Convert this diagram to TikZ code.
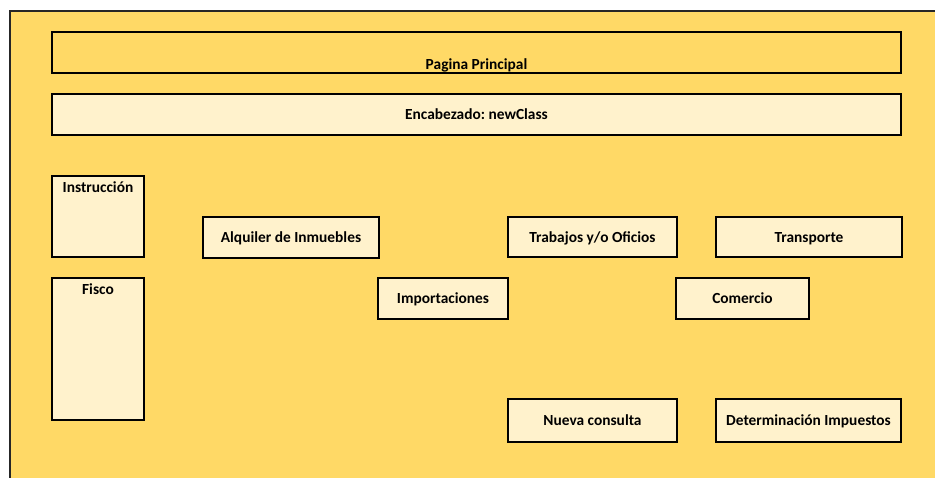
\documentclass[tikz,border=0pt]{standalone}
\usepackage{fontspec}
\setmainfont{Carlito}
\frenchspacing
\definecolor{gold}{HTML}{FFD966}
\definecolor{cream}{HTML}{FFF2CC}
\begin{document}
\begin{tikzpicture}[x=1pt,y=-1pt,
  box/.style={draw=black,line width=1.4pt,fill=cream,inner sep=0pt,
    text height=12pt,text depth=2pt,
    font=\bfseries\fontsize{15.4}{18}\selectfont},
  txt/.style={inner sep=0pt,font=\bfseries\fontsize{15.4}{18}\selectfont}]
\useasboundingbox (0,0) rectangle (935,477);
\fill[gold] (10,11) rectangle (936,478);
\draw[line width=1.5pt,black!85] (10,478) -- (10,11) -- (936,11);
% header boxes
\node[box,fill=gold,minimum width=849pt,minimum height=41pt] (pag) at (476.5,52.5) {};
\node[txt,anchor=base] (pagt) at (476.5,69) {Pagina Principal};
\node[box,minimum width=849pt,minimum height=41pt] (enc) at (476.5,114.5) {Encabezado: newClass};
% side boxes
\node[box,minimum width=92pt,minimum height=81pt] (ins) at (98,216.5) {};
\node[txt,anchor=base] (inst) at (98,192) {Instrucción};
\node[box,minimum width=92pt,minimum height=142pt] (fis) at (98,349) {};
\node[txt,anchor=base] (fist) at (98,294) {Fisco};
% items
\node[box,minimum width=176pt,minimum height=41pt] (alq) at (291,237.5) {Alquiler de Inmuebles};
\node[box,minimum width=169pt,minimum height=40pt] (tra) at (592.5,237) {Trabajos y/o Oficios};
\node[box,minimum width=186pt,minimum height=40pt] (trn) at (809,237) {Transporte};
\node[box,minimum width=130pt,minimum height=41pt] (imp) at (443,298.5) {Importaciones};
\node[box,minimum width=133pt,minimum height=41pt] (com) at (742.5,298.5) {Comercio};
\node[box,minimum width=169pt,minimum height=43pt] (nue) at (592.5,420.5) {Nueva consulta};
\node[box,minimum width=185pt,minimum height=43pt] (det) at (808.5,420.5) {Determinación Impuestos};
\end{tikzpicture}
\end{document}
